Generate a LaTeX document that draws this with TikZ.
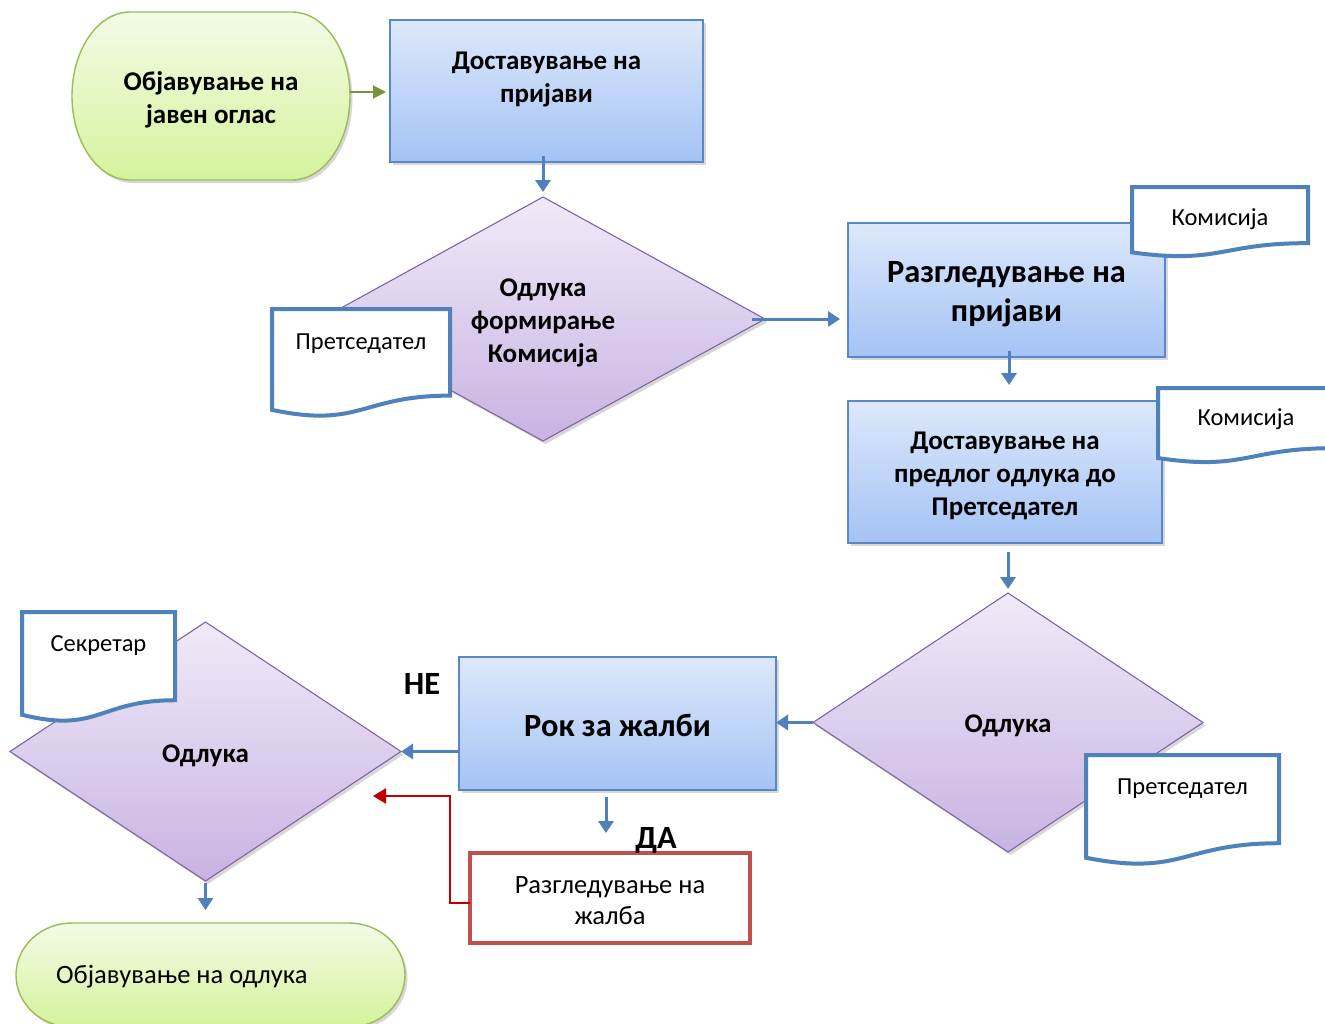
\documentclass[tikz,border=0pt]{standalone}
\usepackage{fontspec}
\setmainfont{Carlito}
\usetikzlibrary{arrows.meta,shapes.geometric,shadows,calc}
\definecolor{boxline}{HTML}{5A88C6}
\definecolor{boxtop}{HTML}{DDE8FB}
\definecolor{boxbot}{HTML}{A4C3F5}
\definecolor{dialine}{HTML}{8064A2}
\definecolor{diatop}{HTML}{F0EAF8}
\definecolor{diabot}{HTML}{C8B3E2}
\definecolor{termline}{HTML}{9BBB59}
\definecolor{termtop}{HTML}{F4FBE6}
\definecolor{termbot}{HTML}{D4F39C}
\definecolor{docline}{HTML}{4F81BD}
\definecolor{arrblue}{HTML}{4F81BD}
\definecolor{arrgreen}{HTML}{77933C}
\definecolor{redbox}{HTML}{C0504D}
\definecolor{redarr}{HTML}{C00000}
\newcommand\mystadium[5]{%
\path[term] ({#1-#3/2+#5},{#2-#4/2}) -- ({#1+#3/2-#5},{#2-#4/2})
  arc[start angle=-90,end angle=90,x radius=#5,y radius=#4/2]
  -- ({#1-#3/2+#5},{#2+#4/2})
  arc[start angle=90,end angle=270,x radius=#5,y radius=#4/2] -- cycle;}
\newcommand\mydoc[7]{%
\path[docshape] (#2,{#3+0.934*#5}) -- (#2,#3) -- ({#2+#4},#3) -- ({#2+#4},{#3+0.802*#5})
  .. controls ({#2+0.5*#4},{#3+0.802*#5}) and ({#2+0.5*#4},{#3+1.1075*#5}) .. (#2,{#3+0.934*#5}) -- cycle;
\node[doctext] (#1) at ({#2+#4/2},{#3+#7}) {#6};}
\begin{document}
\begin{tikzpicture}[x=1pt,y=-1pt,
  shad/.style={drop shadow={shadow xshift=2.5pt,shadow yshift=-3pt,opacity=0.22,fill=black!70}},
  box/.style={rectangle,draw=boxline,line width=1.3pt,top color=boxtop,bottom color=boxbot,
    inner sep=0pt,outer sep=0pt,shad},
  dia/.style={diamond,draw=dialine,line width=1.1pt,top color=diatop,bottom color=diabot,
    inner sep=0pt,outer sep=0pt,shad},
  term/.style={draw=termline,line width=1.4pt,top color=termtop,bottom color=termbot,shad},
  docshape/.style={draw=docline,line width=4pt,fill=white,line join=miter},
  doctext/.style={font=\fontsize{24.5}{29}\selectfont,inner sep=0pt},
  bigb/.style={align=center,inner sep=0pt,font=\bfseries\fontsize{27}{33}\selectfont},
  hugeb/.style={align=center,inner sep=0pt,font=\bfseries\fontsize{32.4}{39}\selectfont},
  regt/.style={align=center,inner sep=0pt,font=\fontsize{26.5}{31}\selectfont},
  barr/.style={draw=arrblue,line width=3pt,-{Triangle[width=15pt,length=12pt]}},
  garr/.style={draw=arrgreen,line width=2pt,-{Triangle[width=13pt,length=13pt]}},
  rarr/.style={draw=redarr,line width=2.5pt,-{Triangle[width=15pt,length=13pt]}},
]
\useasboundingbox (0,0) rectangle (1325,1023);
\fill[white] (0,0) rectangle (1325,1023);

% start terminator
\mystadium{211}{96}{278}{168}{58}
\node[minimum width=278pt,minimum height=168pt,inner sep=0pt,outer sep=0pt] (t1) at (211,96) {};
\node[bigb] (t1t) at (211,100) {Објавување на\\јавен оглас};

% box 1
\node[box,minimum width=313pt,minimum height=142pt] (b1) at (546.5,91) {};
\node[bigb] (b1t) at (546.5,80) {Доставување на\\пријави};

% diamond 1
\node[dia,minimum width=444pt,minimum height=244pt] (d1) at (543,319) {};
\node[bigb] (d1t) at (543,323) {Одлука\\формирање\\Комисија};
\mydoc{doc1}{272}{309}{178}{108}{Претседател}{35}

% box 2
\node[box,minimum width=317pt,minimum height=134pt] (b2) at (1006.5,290) {};
\node[hugeb] (b2t) at (1006.5,294) {Разгледување на\\пријави};
\mydoc{doc2}{1132}{187}{176}{70}{Комисија}{32}

% box 3
\node[box,minimum width=314pt,minimum height=142pt] (b3) at (1005,472) {};
\node[bigb] (b3t) at (1005,476) {Доставување на\\предлог одлука до\\Претседател};
\mydoc{doc3}{1158}{388}{176}{75}{Комисија}{31}

% diamond 2
\node[dia,minimum width=390pt,minimum height=259pt] (d2) at (1008,722.5) {};
\node[bigb] (d2t) at (1008,725.5) {Одлука};
\mydoc{doc4}{1086}{755}{193}{110}{Претседател}{34}

% box 4
\node[box,minimum width=317pt,minimum height=133pt] (b4) at (617.5,723.5) {};
\node[hugeb] (b4t) at (617.5,725) {Рок за жалби};

% red box
\node[rectangle,draw=redbox,line width=4pt,fill=white,minimum width=280pt,minimum height=90pt,
  inner sep=0pt,outer sep=0pt] (r) at (610,898) {};
\node[regt] (rt1) at (610,901) {Разгледување на\\жалба};

% diamond 3
\node[dia,minimum width=391pt,minimum height=259pt] (d3) at (205.5,751.5) {};
\node[bigb] (d3t) at (205.5,755.5) {Одлука};
\mydoc{doc5}{22}{612}{153}{110}{Секретар}{34}

% end terminator
\mystadium{210.5}{975}{389}{104}{56}
\node[minimum width=389pt,minimum height=104pt,inner sep=0pt,outer sep=0pt] (t2) at (210.5,975) {};
\node[anchor=west,font=\fontsize{26.5}{31}\selectfont,inner sep=0pt] (t2t) at (56,977) {Објавување на одлука};

% labels
\node[hugeb] (ne) at (422,684) {НЕ};
\node[hugeb] (da) at (656,840) {ДА};

% connectors
\draw[garr,shorten >=4pt] ([yshift=4pt]t1.east) -- ([yshift=4pt]t1.east -| b1.west);
\draw[barr,shorten <=-6pt,shorten >=5pt] (b1.south -| d1.north) -- (d1.north);
\draw[barr,shorten <=-13pt,shorten >=8pt] (d1.east) -- (b2.west |- d1.east);
\draw[barr,shorten <=-6pt,shorten >=16pt] ([xshift=2.5pt]b2.south) -- ([xshift=2.5pt]b2.south |- b3.north);
\draw[barr,shorten <=9pt,shorten >=4pt] (b3.south -| d2.north) -- (d2.north);
\draw[barr] (d2.west) -- (b4.east |- d2.west);
\draw[barr] (b4.west |- d3.east) -- (d3.east);
\draw[barr,shorten <=7pt,shorten >=20pt] ([xshift=-11.5pt]b4.south) -- ([xshift=-11.5pt]b4.south |- r.north);
\coordinate (rtip) at (373,796);
\draw[rarr] ([yshift=-5pt]r.west) -- ++(-20,0) |- (rtip);
\draw[barr,shorten <=2pt,shorten >=13pt] (d3.south) -- (t2.north -| d3.south);
\end{tikzpicture}
\end{document}
